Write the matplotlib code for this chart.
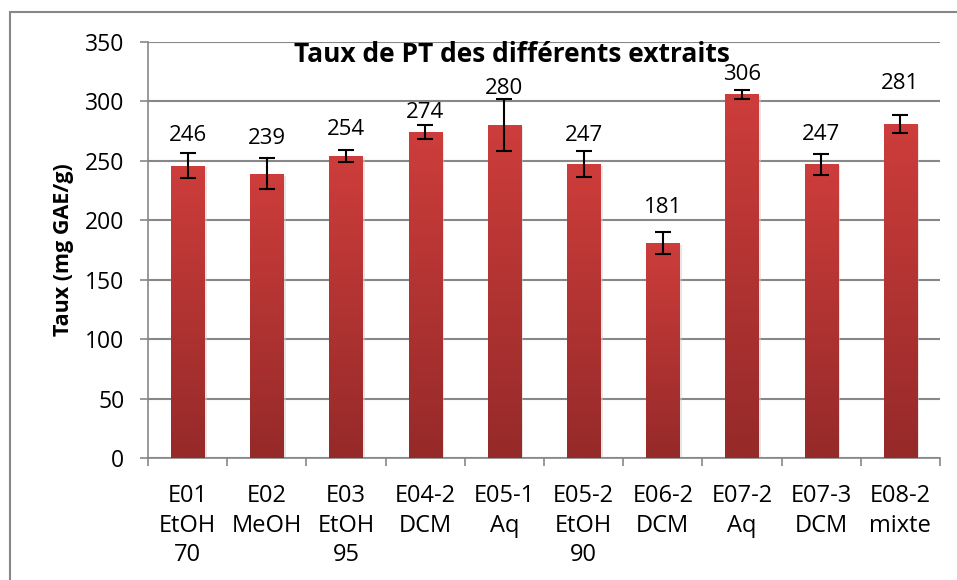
import matplotlib.pyplot as plt
import matplotlib.patches as mpatches
from matplotlib.colors import LinearSegmentedColormap
import numpy as np

plt.rcParams['font.family'] = ['Open Sans', 'DejaVu Sans']

labels = ['E01\nEtOH\n70', 'E02\nMeOH', 'E03\nEtOH\n95', 'E04-2\nDCM', 'E05-1\nAq',
          'E05-2\nEtOH\n90', 'E06-2\nDCM', 'E07-2\nAq', 'E07-3\nDCM', 'E08-2\nmixte']
values = [246, 239, 254, 274, 280, 247, 181, 306, 247, 281]
errors = [10.5, 13, 5, 6, 22, 11, 9, 4, 9, 7.5]
# height (in data units) where each value label sits in the original
label_y = [271, 269, 276, 291, 311, 271, 211, 323, 272, 315]

fig = plt.figure(figsize=(9.57, 5.8), dpi=100)
ax = fig.add_axes([148/957, 1 - 458/580, (940-148)/957, (458-42)/580])

x = np.arange(len(values))
bars = ax.bar(x, values, width=0.42, color='none', zorder=3)

# vertical gradient inside each bar
grad = np.linspace(0, 1, 256).reshape(-1, 1)
cmap = LinearSegmentedColormap.from_list('redgrad', ['#952a29', '#cd3d3b'])
for b in bars:
    bx, bw, bh = b.get_x(), b.get_width(), b.get_height()
    # small shadow
    sh = mpatches.Rectangle((bx + 0.03, 0), bw, bh - 1.5, color='#cfcfcf', alpha=0.5, zorder=2, lw=0)
    ax.add_patch(sh)
    im = ax.imshow(grad, extent=[bx, bx + bw, 0, bh], origin='lower', aspect='auto',
                   cmap=cmap, zorder=3)
    im.set_clip_path(b)

ax.errorbar(x, values, yerr=errors, fmt='none', ecolor='black', elinewidth=1.5,
            capsize=6, capthick=1.5, zorder=4)

for xi, v, ly in zip(x, values, label_y):
    ax.text(xi, ly, str(v), ha='center', va='center', fontsize=16, zorder=5)

ax.set_xlim(-0.5, len(values) - 0.5)
ax.set_ylim(0, 350)
ax.set_yticks(np.arange(0, 351, 50))
ax.yaxis.grid(True, color='#878787', linewidth=1.5, zorder=0)
ax.set_axisbelow(True)
ax.tick_params(axis='y', labelsize=16.5, direction='out', length=6, color='#878787', width=1.2, pad=11)

ax.set_xticks(x)
ax.set_xticklabels(labels, fontsize=17, linespacing=1.3)
ax.set_xticks(np.arange(-0.5, len(values)), minor=True)
ax.tick_params(axis='x', which='major', length=0, pad=19)
ax.tick_params(axis='x', which='minor', direction='out', length=6, color='#878787', width=1.2)

for s in ['top', 'right']:
    ax.spines[s].set_visible(False)
for s in ['left', 'bottom']:
    ax.spines[s].set_color('#878787')
    ax.spines[s].set_linewidth(1.2)

ax.set_ylabel('Taux (mg GAE/g)', fontsize=15.5, fontweight='bold', labelpad=8)
fig.text(512/957, 1 - 54/580, 'Taux de PT des différents extraits', ha='center', va='center',
         fontsize=19, fontweight='bold')

border = mpatches.Rectangle((10/957, -0.05), 1.2, 1 - 12/580 + 0.05, transform=fig.transFigure,
                            fill=False, edgecolor='#878787', linewidth=1.5)
fig.patches.append(border)

fig.savefig('out.png', dpi=100)
